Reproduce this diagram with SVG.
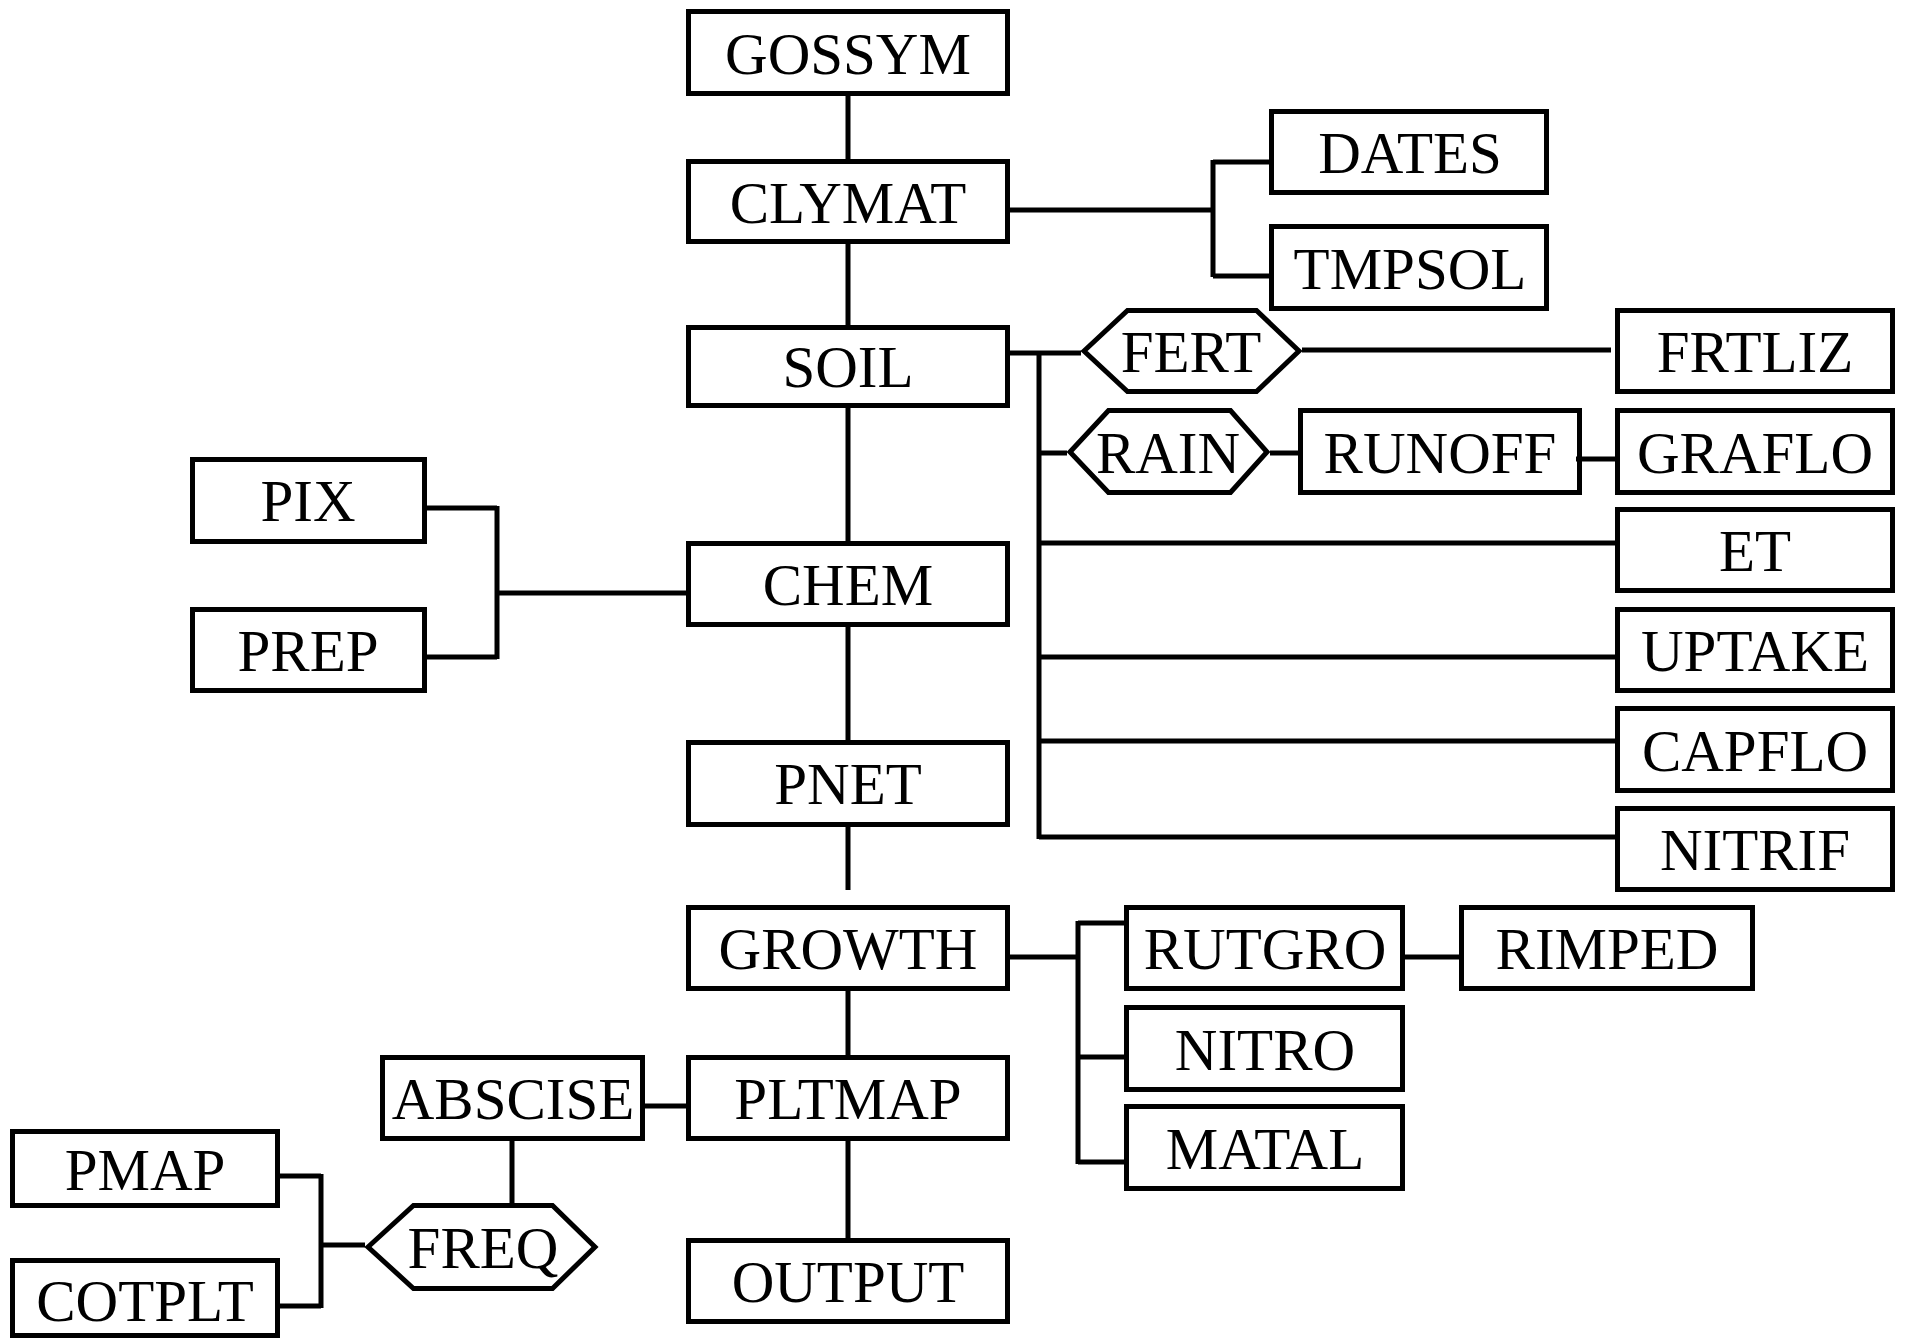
<svg xmlns="http://www.w3.org/2000/svg" width="1908" height="1338" viewBox="0 0 1908 1338">
<style>
.b{fill:#fff;stroke:#000;stroke-width:5}
.t{font-family:"Liberation Serif","Times New Roman",serif;font-size:59px;fill:#000;text-anchor:middle}
.c{fill:none;stroke:#000;stroke-width:5}
</style>
<rect width="1908" height="1338" fill="#fff"/>
<g id="GOSSYM"><rect class="b" x="688.5" y="11.5" width="319" height="82"/><text class="t" x="848" y="74">GOSSYM</text></g>
<g id="CLYMAT"><rect class="b" x="688.5" y="161.5" width="319" height="80"/><text class="t" x="848" y="223">CLYMAT</text></g>
<g id="SOIL"><rect class="b" x="688.5" y="327.5" width="319" height="78"/><text class="t" x="848" y="387">SOIL</text></g>
<g id="CHEM"><rect class="b" x="688.5" y="543.5" width="319" height="81"/><text class="t" x="848" y="605">CHEM</text></g>
<g id="PNET"><rect class="b" x="688.5" y="742.5" width="319" height="82"/><text class="t" x="848" y="804">PNET</text></g>
<g id="GROWTH"><rect class="b" x="688.5" y="907.5" width="319" height="81"/><text class="t" x="848" y="969">GROWTH</text></g>
<g id="PLTMAP"><rect class="b" x="688.5" y="1057.5" width="319" height="81"/><text class="t" x="848" y="1119">PLTMAP</text></g>
<g id="OUTPUT"><rect class="b" x="688.5" y="1240.5" width="319" height="81"/><text class="t" x="848" y="1302">OUTPUT</text></g>
<g id="DATES"><rect class="b" x="1271.5" y="111.5" width="275" height="81"/><text class="t" x="1410" y="173">DATES</text></g>
<g id="TMPSOL"><rect class="b" x="1271.5" y="226.5" width="275" height="82"/><text class="t" x="1410" y="289">TMPSOL</text></g>
<g id="FERT"><polygon class="b" points="1084,351 1127.5,310.5 1256.5,310.5 1299,351 1256.5,391.5 1127.5,391.5"/><text class="t" x="1191" y="372">FERT</text></g>
<g id="RAIN"><polygon class="b" points="1070,452 1108.5,410.5 1230.5,410.5 1267,452 1230.5,492.5 1108.5,492.5"/><text class="t" x="1168" y="473">RAIN</text></g>
<g id="RUNOFF"><rect class="b" x="1300.5" y="410.5" width="279" height="82"/><text class="t" x="1440" y="473">RUNOFF</text></g>
<g id="FRTLIZ"><rect class="b" x="1617.5" y="310.5" width="275" height="81"/><text class="t" x="1755" y="372">FRTLIZ</text></g>
<g id="GRAFLO"><rect class="b" x="1617.5" y="410.5" width="275" height="82"/><text class="t" x="1755" y="473">GRAFLO</text></g>
<g id="ET"><rect class="b" x="1617.5" y="509.5" width="275" height="81"/><text class="t" x="1755" y="571">ET</text></g>
<g id="UPTAKE"><rect class="b" x="1617.5" y="609.5" width="275" height="81"/><text class="t" x="1755" y="671">UPTAKE</text></g>
<g id="CAPFLO"><rect class="b" x="1617.5" y="708.5" width="275" height="82"/><text class="t" x="1755" y="771">CAPFLO</text></g>
<g id="NITRIF"><rect class="b" x="1617.5" y="808.5" width="275" height="81"/><text class="t" x="1755" y="870">NITRIF</text></g>
<g id="PIX"><rect class="b" x="192.5" y="459.5" width="232" height="82"/><text class="t" x="308" y="521">PIX</text></g>
<g id="PREP"><rect class="b" x="192.5" y="609.5" width="232" height="81"/><text class="t" x="308" y="671">PREP</text></g>
<g id="RUTGRO"><rect class="b" x="1126.5" y="907.5" width="276" height="81"/><text class="t" x="1265" y="969">RUTGRO</text></g>
<g id="RIMPED"><rect class="b" x="1461.5" y="907.5" width="291" height="81"/><text class="t" x="1607" y="969">RIMPED</text></g>
<g id="NITRO"><rect class="b" x="1126.5" y="1007.5" width="276" height="82"/><text class="t" x="1265" y="1070">NITRO</text></g>
<g id="MATAL"><rect class="b" x="1126.5" y="1106.5" width="276" height="82"/><text class="t" x="1265" y="1169">MATAL</text></g>
<g id="ABSCISE"><rect class="b" x="382.5" y="1057.5" width="260" height="81"/><text class="t" x="513" y="1119">ABSCISE</text></g>
<g id="FREQ"><polygon class="b" points="368,1247 413.5,1205.5 552.5,1205.5 595,1247 552.5,1288.5 413.5,1288.5"/><text class="t" x="483" y="1268">FREQ</text></g>
<g id="PMAP"><rect class="b" x="12.5" y="1131.5" width="265" height="74"/><text class="t" x="145" y="1190">PMAP</text></g>
<g id="COTPLT"><rect class="b" x="12.5" y="1260.5" width="265" height="75"/><text class="t" x="145" y="1321">COTPLT</text></g>
<g id="connectors" class="c">
<path d="M848 96V159M848 244V325M848 408V541M848 627V740M848 827V890M848 991V1055M848 1141V1238"/>
<path d="M1010 210H1213M1213 160V277M1213 162H1269M1213 276H1269"/>
<path d="M1010 353H1081M1039 353V839M1039 453H1067M1270 453H1298M1576 459H1615M1302 350H1611M1039 543H1615M1039 657H1615M1039 741H1615M1039 837H1615"/>
<path d="M427 508H497M497 506V659M427 657H497M497 593H686"/>
<path d="M1010 957H1078M1078 921V1164M1078 923H1124M1078 1057H1124M1078 1162H1124M1405 957H1459"/>
<path d="M645 1106H686M512 1141V1203"/>
<path d="M280 1176H321M321 1174V1308M280 1306H321M321 1245H365"/>
</g>
</svg>
